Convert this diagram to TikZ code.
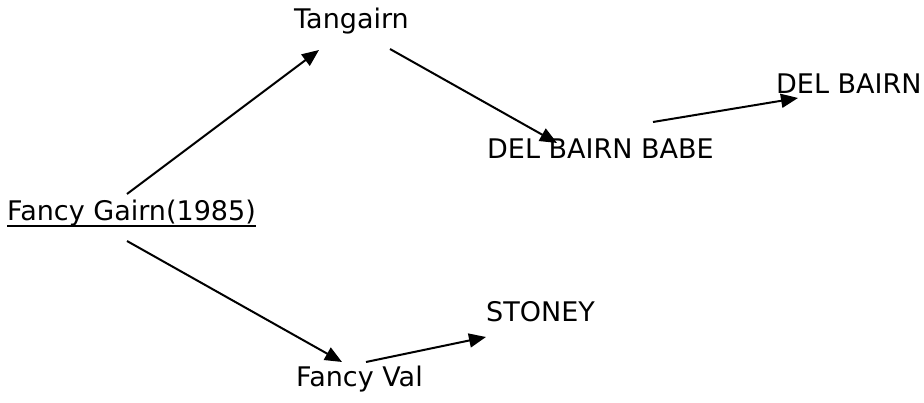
\documentclass[tikz,border=0pt]{standalone}
\usepackage{fontspec}
\setmainfont{DejaVu Sans}
\usetikzlibrary{arrows.meta}
\begin{document}
\begin{tikzpicture}[x=1pt,y=-1pt,
  lbl/.style={anchor=base west,inner sep=0pt,font=\fontsize{27}{31}\selectfont},
  arr/.style={-{Triangle[length=17pt,width=14pt]},line width=2pt}]
\useasboundingbox (0,0) rectangle (924,403);
\node[lbl] (fg) at (7,221) {Fancy Gairn(1985)};
\node[lbl] (tg) at (294,29) {Tangairn};
\node[lbl] (dbb) at (487,159) {DEL BAIRN BABE};
\node[lbl] (db) at (776,94) {DEL BAIRN};
\node[lbl] (st) at (486,322) {STONEY};
\node[lbl] (fv) at (296,387) {Fancy Val};
\draw[line width=2pt] ([yshift=-5.5pt]fg.base west) -- ([yshift=-5.5pt]fg.base east);
\coordinate (a1s) at (127,194); \coordinate (a1e) at (319,50);
\coordinate (a2s) at (390,49);  \coordinate (a2e) at (557,143);
\coordinate (a3s) at (653,122); \coordinate (a3e) at (798,98);
\coordinate (a4s) at (127,241); \coordinate (a4e) at (342,362);
\coordinate (a5s) at (366,362); \coordinate (a5e) at (486,337);
\draw[arr] (a1s) -- (a1e);
\draw[arr] (a2s) -- (a2e);
\draw[arr] (a3s) -- (a3e);
\draw[arr] (a4s) -- (a4e);
\draw[arr] (a5s) -- (a5e);
\end{tikzpicture}
\end{document}
